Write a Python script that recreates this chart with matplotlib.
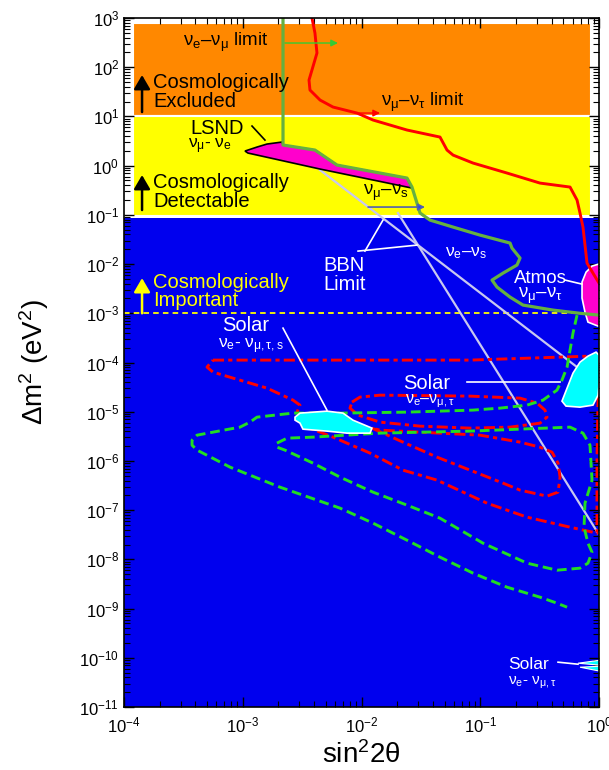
import numpy as np
import matplotlib
matplotlib.use('Agg')
import matplotlib.pyplot as plt
from matplotlib.patches import Rectangle
from matplotlib.ticker import LogLocator, NullFormatter

plt.rcParams['font.family'] = ['Liberation Sans', 'DejaVu Sans']
plt.rcParams['mathtext.fontset'] = 'custom'
plt.rcParams['mathtext.rm'] = 'Liberation Sans'
plt.rcParams['mathtext.it'] = 'Liberation Sans:italic'
plt.rcParams['mathtext.bf'] = 'Liberation Sans:bold'
plt.rcParams['mathtext.default'] = 'regular'
plt.rcParams['lines.scale_dashes'] = False

# all curves are given as decades: log10(sin^2 2theta), log10(dm^2 / eV^2)

# cosmological regions
band_x = (1.19e-4, 0.857)
excluded_dm2 = (10.0, 790.0)
detectable_dm2 = (0.095, 10.0)
important_top = 0.086
important_level = 1e-3

# nu_mu - nu_tau accelerator limit (red solid)
mutau_lim_x = [-2.417, -2.392, -2.375, -2.442, -2.434, -2.349, -2.240, -2.038, -1.903, -1.617,
               -1.339, -1.280, -1.229, -1.061, -0.775, -0.497, -0.244, -0.185, -0.160, -0.135,
               -0.101, -0.051, 0.0]
mutau_lim_y = [3.0, 2.695, 2.289, 1.740, 1.537, 1.333, 1.191, 1.069, 0.927, 0.724,
               0.581, 0.317, 0.215, 0.053, -0.150, -0.354, -0.435, -0.699, -0.963, -1.248,
               -1.980, -2.183, -2.386]

# nu_e - nu_mu / sterile limit (green solid)
emu_lim_x = [-2.661, -2.661, -2.392, -2.206, -1.617, -1.575, -1.533, -1.507, -1.423, -1.229,
             -1.002, -0.749, -0.733, -0.665, -0.691, -0.808, -0.901, -0.859, -0.749, -0.640,
             -0.387, -0.160, 0.0]
emu_lim_y = [3.0, 0.419, 0.317, 0.012, -0.252, -0.435, -0.760, -0.963, -1.106, -1.248,
             -1.411, -1.573, -1.675, -1.878, -2.020, -2.183, -2.325, -2.467, -2.671, -2.833,
             -2.935, -3.0, -3.037]

# LSND allowed region
lsnd_x = [-2.981, -2.880, -2.796, -2.669, -2.661, -2.392, -2.206, -1.617, -1.575, -2.349, -2.956]
lsnd_y = [0.297, 0.378, 0.439, 0.480, 0.419, 0.317, 0.012, -0.252, -0.455, -0.069, 0.256]

# atmospheric region
atmos_x = [0.051, -0.059, -0.109, -0.143, -0.143, -0.118, -0.093, -0.008, 0.051]
atmos_y = [-1.959, -2.041, -2.163, -2.366, -2.691, -2.976, -3.179, -3.260, -3.260]

# solar large-angle region
lma_x = [-0.025, -0.093, -0.160, -0.219, -0.269, -0.312, -0.278, -0.160, -0.051, -0.008, 0.008, 0.0]
lma_y = [-3.789, -3.870, -3.992, -4.215, -4.520, -4.785, -4.886, -4.907, -4.866, -4.663, -4.256, -3.850]

# solar small-angle region
sma_x = [-2.560, -2.518, -2.291, -2.156, -2.072, -1.912, -1.928, -2.122, -2.291, -2.493, -2.518, -2.560]
sma_y = [-5.110, -5.028, -4.988, -5.028, -5.171, -5.333, -5.435, -5.435, -5.394, -5.354, -5.232, -5.171]

# solar vacuum slivers
vac_x = [[-0.177, 0.008, 0.008], [-0.160, 0.008, 0.008]]
vac_y = [[-10.110, -10.049, -10.150], [-10.191, -10.171, -10.272]]

# red dash-dot contours
red_outer_x = [-3.251, -1.086, -0.076, -0.008, -0.008, -0.017, -0.017, -0.244, -0.606, -0.943,
               -1.364, -1.651, -1.928, -2.240, -2.459, -2.543, -2.518, -2.577, -2.796, -3.082,
               -3.251, -3.301, -3.251]
red_outer_y = [-3.951, -3.951, -3.870, -3.870, -4.764, -5.984, -7.467, -7.346, -7.142, -6.858,
               -6.390, -6.187, -5.841, -5.516, -5.313, -5.008, -4.866, -4.764, -4.520, -4.317,
               -4.195, -4.093, -3.951]
red_small_x = [-2.080, -2.013, -1.844, -1.086, -0.665, -0.522, -0.455, -0.438, -0.497, -0.749,
               -1.086, -1.507, -1.844, -2.029, -2.097]
red_small_y = [-4.805, -4.703, -4.663, -4.683, -4.724, -4.825, -4.967, -5.110, -5.232, -5.313,
               -5.333, -5.293, -5.211, -5.069, -4.927]
red_u_x = [-1.912, -1.651, -1.364, -1.086, -0.808, -0.665, -0.438, -0.345, -0.328, -0.345,
           -0.396, -0.497, -0.665, -1.002, -1.507, -1.844]
red_u_y = [-5.333, -5.618, -5.923, -6.187, -6.451, -6.593, -6.715, -6.634, -6.329, -6.045,
           -5.821, -5.720, -5.618, -5.476, -5.415, -5.374]

# green dashed contours
green_outer_x = [-0.185, -0.219, -0.269, -0.312, -0.354, -0.472, -0.606, -0.834, -1.061, -1.617,
                 -2.181, -2.577, -2.880, -2.939, -3.023, -3.251, -3.385, -3.427, -3.427, -3.385,
                 -3.107, -2.686, -2.181, -1.903, -1.617, -1.339, -1.061, -0.775, -0.497, -0.354,
                 -0.269]
green_outer_y = [-3.037, -3.402, -4.093, -4.358, -4.561, -4.764, -4.866, -4.927, -4.967, -5.008,
                 -5.028, -5.028, -5.110, -5.211, -5.313, -5.415, -5.476, -5.577, -5.679, -5.780,
                 -6.126, -6.533, -6.959, -7.264, -7.610, -7.955, -8.280, -8.565, -8.768, -8.890,
                 -8.972]
green_inner_x = [-2.712, -2.627, -2.408, -1.844, -1.086, -0.244, -0.135, -0.076, -0.059, -0.118,
                 -0.126, -0.093, -0.059, -0.093, -0.160, -0.354, -0.606, -0.977, -1.339, -1.617,
                 -1.903, -2.181, -2.408, -2.644, -2.712]
green_inner_y = [-5.638, -5.537, -5.516, -5.435, -5.394, -5.313, -5.435, -5.679, -6.390, -6.858,
                 -7.346, -7.671, -7.854, -8.077, -8.179, -8.220, -8.077, -7.671, -7.163, -6.898,
                 -6.634, -6.329, -6.045, -5.780, -5.720]

# BBN limit lines
bbn_es_x = [-2.349, -0.185]
bbn_es_y = [-0.089, -4.093]
bbn_mus_x = [-1.693, -0.008]
bbn_mus_y = [-0.963, -7.467]

BLUE = '#0000ee'
ORANGE = '#ff8800'
YELLOW = '#ffff00'
MAGENTA = '#ff00cc'
CYAN = '#00ffff'
LAVENDER = '#c8c8f0'
RED = '#ff0000'
GREEN_DASH = '#22dd22'
GREEN_SOLID = '#66b040'


def dec(v):
    return 10.0 ** np.asarray(v, dtype=float)


def closed(v):
    return list(v) + [v[0]]


fig = plt.figure(figsize=(6.09, 7.70), dpi=100)
ax = fig.add_axes([0.2036, 0.0818, 0.780, 0.8948])
ax.set_xscale('log')
ax.set_yscale('log')
ax.set_xlim(1e-4, 1)
ax.set_ylim(1e-11, 1e3)
ax.set_facecolor('white')

# background regions
ax.axhspan(1e-11, important_top, color=BLUE, zorder=0, lw=0)
for (lo, hi), col in [(excluded_dm2, ORANGE), (detectable_dm2, YELLOW)]:
    ax.add_patch(Rectangle((band_x[0], lo), band_x[1] - band_x[0], hi - lo,
                           facecolor=col, edgecolor='white', lw=1.5, zorder=1))
ax.axhline(important_level, color=YELLOW, lw=1.3, dashes=(4, 3), zorder=2)

# BBN limits
ax.plot(dec(bbn_es_x), dec(bbn_es_y), color=LAVENDER, lw=1.6, zorder=3)
ax.plot(dec(bbn_mus_x), dec(bbn_mus_y), color=LAVENDER, lw=1.6, zorder=3)

# dashed solar contours
dashdot = (8, 3, 3, 3)
for xs, ys in [(red_outer_x, red_outer_y), (red_small_x, red_small_y), (red_u_x, red_u_y)]:
    ax.plot(dec(closed(xs)), dec(closed(ys)), color=RED, lw=2.1, dashes=dashdot, zorder=4)
ax.plot(dec(green_outer_x), dec(green_outer_y), color=GREEN_DASH, lw=2.1, dashes=(7, 3.5), zorder=4)
ax.plot(dec(closed(green_inner_x)), dec(closed(green_inner_y)), color=GREEN_DASH, lw=2.1,
        dashes=(7, 3.5), zorder=4)

# allowed regions
ax.fill(dec(lsnd_x), dec(lsnd_y), facecolor=MAGENTA, edgecolor='black', lw=1.2, zorder=5)
ax.fill(dec(atmos_x), dec(atmos_y), facecolor=MAGENTA, edgecolor='white', lw=1.2, zorder=5)
ax.fill(dec(lma_x), dec(lma_y), facecolor=CYAN, edgecolor='white', lw=1.2, zorder=5)
ax.fill(dec(sma_x), dec(sma_y), facecolor=CYAN, edgecolor='white', lw=1.2, zorder=5)
for xs, ys in zip(vac_x, vac_y):
    ax.fill(dec(xs), dec(ys), facecolor=CYAN, edgecolor='white', lw=0.8, zorder=5)

# accelerator limits
ax.plot(dec(mutau_lim_x), dec(mutau_lim_y), color=RED, lw=2.1, zorder=6)
ax.plot(dec(emu_lim_x), dec(emu_lim_y), color=GREEN_SOLID, lw=2.3, zorder=6)

# limit arrows
def arrow(x0, x1, y, col, lw=1.0, ms=10):
    ax.annotate('', xy=(dec(x1), dec(y)), xytext=(dec(x0), dec(y)),
                arrowprops=dict(arrowstyle='-|>', color=col, lw=lw, mutation_scale=ms,
                                shrinkA=0, shrinkB=0), zorder=7)

arrow(-2.644, -2.198, 2.492, '#33cc33')
arrow(-2.055, -1.844, 1.069, RED)
ax.annotate('', xy=(dec(-1.465), dec(-0.841)), xytext=(dec(-1.945), dec(-0.841)),
            arrowprops=dict(arrowstyle='-|>', color='#5060b0', lw=1.2, mutation_scale=10,
                            shrinkA=0, shrinkB=0, fc='#2040ff'), zorder=7)

# upward arrows for cosmology bands
def up_arrow(y0, y1, col):
    ax.annotate('', xy=(dec(-3.848), dec(y1)), xytext=(dec(-3.848), dec(y0)),
                arrowprops=dict(arrowstyle='-|>,head_width=0.35,head_length=0.6', color=col,
                                lw=1.8, mutation_scale=14, shrinkA=0, shrinkB=0), zorder=7)

up_arrow(1.089, 1.841, 'black')
up_arrow(-0.902, -0.191, 'black')
up_arrow(-3.0, -2.285, YELLOW)

# pointer lines
pointers = [([-2.922, -2.813], [0.805, 0.520], 'black'),
            ([-1.971, -1.819], [-1.736, -1.106], 'white'),
            ([-2.029, -1.533], [-1.736, -1.614], 'white'),
            ([-0.286, -0.143], [-2.325, -2.407], 'white'),
            ([-1.112, -0.328], [-4.398, -4.398], 'white'),
            ([-2.661, -2.291], [-3.301, -4.967], 'white'),
            ([-0.345, -0.177], [-10.089, -10.130], 'white')]
for xs, ys, col in pointers:
    ax.plot(dec(xs), dec(ys), color=col, lw=1.2, zorder=7)

# labels
big = 14.5
T = ax.transAxes
def label(fx, fy, s, col='black', size=big, ha='left', ls=1.0):
    ax.text(fx, fy, s, transform=T, color=col, fontsize=size, ha=ha, va='center',
            multialignment=ha, linespacing=ls, zorder=8)

label(0.124, 0.964, r'ν$_e$–ν$_\mu$ limit', size=13.5)
label(0.061, 0.8933, 'Cosmologically\nExcluded', ls=1.0)
label(0.541, 0.877, r'ν$_\mu$–ν$_\tau$ limit', size=13.5)
label(0.139, 0.840, 'LSND')
label(0.135, 0.814, r'ν$_\mu$- ν$_e$', size=12.5)
label(0.061, 0.7482, 'Cosmologically\nDetectable', ls=1.0)
label(0.503, 0.746, r'ν$_\mu$–ν$_s$', size=13.5)
label(0.061, 0.603, 'Cosmologically\nImportant', col=YELLOW, ls=0.88)
label(0.419, 0.6277, 'BBN\nLimit', col='white', ls=1.0)
label(0.676, 0.659, r'ν$_e$–ν$_s$', col='white', size=12.5)
label(0.876, 0.6081, 'Atmos\n' + r'ν$_\mu$–ν$_\tau$', col='white', size=13.5, ha='center', ls=0.8)
label(0.206, 0.553, 'Solar', col='white')
label(0.198, 0.524, r'ν$_e$- ν$_{\mu,\tau,s}$', col='white', size=12.5)
label(0.587, 0.470, 'Solar', col='white')
label(0.592, 0.444, r'ν$_e$–ν$_{\mu,\tau}$', col='white', size=11.5)
label(0.808, 0.061, 'Solar', col='white', size=12.5)
label(0.808, 0.035, r'ν$_e$- ν$_{\mu,\tau}$', col='white', size=11)

# axes decoration
ax.xaxis.set_major_locator(LogLocator(base=10, numticks=20))
ax.yaxis.set_major_locator(LogLocator(base=10, numticks=20))
for axis in (ax.xaxis, ax.yaxis):
    axis.set_minor_locator(LogLocator(base=10, subs=np.arange(2, 10), numticks=20))
    axis.set_minor_formatter(NullFormatter())
ax.tick_params(which='both', direction='in', top=True, right=True, labelsize=12)
ax.tick_params(which='major', length=7, width=1)
ax.tick_params(which='minor', length=4, width=0.8)
ax.tick_params(axis='x', pad=6)
for sp in ax.spines.values():
    sp.set_linewidth(1.2)
    sp.set_zorder(9)

ax.set_xlabel('sin$^2$2θ', fontsize=20, labelpad=4)
ax.set_ylabel(r'Δm$^2$ (eV$^2$)', fontsize=20, labelpad=20)

fig.savefig('out.png', dpi=100)
